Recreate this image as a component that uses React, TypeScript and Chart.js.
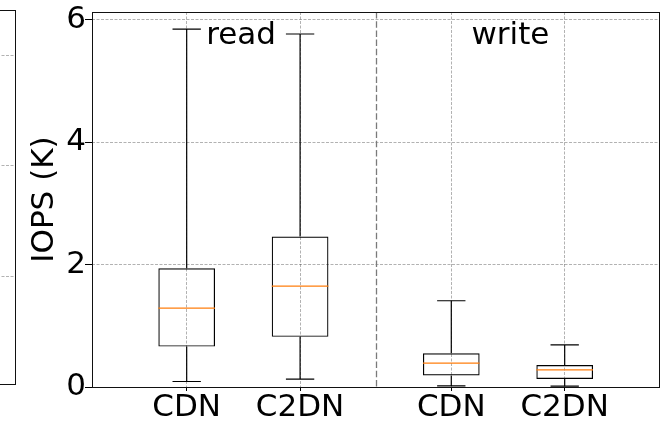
import React, { useEffect, useRef } from "react";
import { Chart, registerables } from "chart.js";

Chart.register(...registerables);

// ---- data ----
const categories = ["CDN", "C2DN", "CDN", "C2DN"];
const groupLabels = ["read", "write"];
const positions = [1, 2, 10 / 3, 13 / 3];
const whiskerLow = [0.09, 0.13, 0.02, 0.015];
const q1 = [0.66, 0.82, 0.19, 0.13];
const median = [1.29, 1.65, 0.39, 0.28];
const q3 = [1.94, 2.46, 0.55, 0.36];
const whiskerHigh = [5.85, 5.77, 1.41, 0.69];
const yTicks = [0, 2, 4, 6];
const yTitle = "IOPS (K)";
const groupLabelX = [1.48, 3.855];
const groupLabelY = 5.6;
const leftPanelTicks = [1, 2, 3];

const FONT = "'DejaVu Sans', sans-serif";
const BOX_HALF = 0.25;
const CAP_HALF = 0.125;

export default function App() {
  const mainRef = useRef<HTMLCanvasElement>(null);
  const leftRef = useRef<HTMLCanvasElement>(null);

  useEffect(() => {
    Chart.defaults.font.family = FONT;
    Chart.defaults.color = "#000";

    const framePlugin = {
      id: "frame",
      afterDraw(chart: any) {
        const { ctx, chartArea } = chart;
        ctx.save();
        ctx.strokeStyle = "#111";
        ctx.lineWidth = 1;
        ctx.setLineDash([]);
        ctx.strokeRect(
          chartArea.left + 0.5,
          chartArea.top + 0.5,
          chartArea.right - chartArea.left,
          chartArea.bottom - chartArea.top
        );
        ctx.restore();
      },
    };

    const sepX = (positions[1] + positions[2]) / 2;
    const decorPlugin = {
      id: "decor",
      beforeDatasetsDraw(chart: any) {
        const { ctx, chartArea, scales } = chart;
        const px = Math.round(scales.x.getPixelForValue(sepX)) + 0.5;
        ctx.save();
        ctx.strokeStyle = "#7a7a7a";
        ctx.lineWidth = 1.3;
        ctx.setLineDash([6.5, 2.7]);
        ctx.beginPath();
        ctx.moveTo(px, chartArea.top);
        ctx.lineTo(px, chartArea.bottom);
        ctx.stroke();
        ctx.restore();
      },
      afterDatasetsDraw(chart: any) {
        const { ctx, scales } = chart;
        ctx.save();
        ctx.fillStyle = "#000";
        ctx.font = `31px ${FONT}`;
        ctx.textAlign = "center";
        ctx.textBaseline = "alphabetic";
        groupLabels.forEach((t, i) => {
          ctx.fillText(
            t,
            scales.x.getPixelForValue(groupLabelX[i]),
            scales.y.getPixelForValue(groupLabelY)
          );
        });
        ctx.restore();
      },
    };

    const boxData = positions.map((x, i) => ({ x, y: [q1[i], q3[i]] }));
    const whiskerData: any[] = [];
    const medianData: any[] = [];
    positions.forEach((x, i) => {
      whiskerData.push(
        { x, y: q3[i] },
        { x, y: whiskerHigh[i] },
        { x, y: null },
        { x, y: q1[i] },
        { x, y: whiskerLow[i] },
        { x, y: null },
        { x: x - CAP_HALF, y: whiskerHigh[i] },
        { x: x + CAP_HALF, y: whiskerHigh[i] },
        { x, y: null },
        { x: x - CAP_HALF, y: whiskerLow[i] },
        { x: x + CAP_HALF, y: whiskerLow[i] },
        { x, y: null }
      );
      medianData.push(
        { x: x - BOX_HALF, y: median[i] },
        { x: x + BOX_HALF, y: median[i] },
        { x, y: null }
      );
    });

    const gridStyle = {
      color: "rgba(0,0,0,0.3)",
      lineWidth: 1,
      tickColor: "#000",
      tickBorderDash: [],
      tickWidth: 1,
    };
    const borderStyle = { display: false, dash: [3, 1.5] };

    const main = new Chart(mainRef.current as HTMLCanvasElement, {
      type: "bar",
      data: {
        datasets: [
          {
            type: "line",
            label: "median",
            data: medianData,
            borderColor: "#ff7f0e",
            borderWidth: 1.2,
            pointRadius: 0,
            spanGaps: false,
            fill: false,
            order: 0,
          } as any,
          {
            type: "line",
            label: "whiskers",
            data: whiskerData,
            borderColor: "#000",
            borderWidth: 1.2,
            pointRadius: 0,
            spanGaps: false,
            fill: false,
            order: 1,
          } as any,
          {
            type: "bar",
            label: "box",
            data: boxData as any,
            backgroundColor: "rgba(0,0,0,0)",
            borderColor: "#000",
            borderWidth: 1.2,
            borderSkipped: false,
            categoryPercentage: 1,
            barPercentage: 0.5,
            order: 2,
          } as any,
        ],
      },
      options: {
        animation: false,
        responsive: false,
        devicePixelRatio: 1,
        layout: { padding: { left: 0, right: 12, top: 12, bottom: 0 } },
        plugins: { legend: { display: false }, tooltip: { enabled: false } },
        scales: {
          x: {
            type: "linear",
            min: 0.165,
            max: 5.165,
            offset: false,
            border: borderStyle,
            grid: { ...gridStyle, offset: false, tickLength: 4 },
            ticks: {
              font: { size: 31, family: FONT, lineHeight: 1 },
              color: "#000",
              padding: 1,
              maxRotation: 0,
              autoSkip: false,
              callback: (_v: any, i: number) => categories[i],
            },
            afterBuildTicks: (s: any) => {
              s.ticks = positions.map((v) => ({ value: v }));
            },
            afterFit: (s: any) => {
              s.height = 36;
              s.paddingLeft = 0;
              s.paddingRight = 0;
            },
          },
          y: {
            type: "linear",
            min: 0,
            max: 6.13,
            border: borderStyle,
            grid: { ...gridStyle, tickLength: 7 },
            ticks: {
              font: { size: 31, family: FONT, lineHeight: 1 },
              color: "#000",
              padding: -1,
              callback: (v: any) => String(v),
            },
            title: {
              display: true,
              text: yTitle,
              color: "#000",
              font: { size: 31, family: FONT, lineHeight: 1 },
              padding: { top: 29.5, bottom: 0 },
            },
            afterBuildTicks: (s: any) => {
              s.ticks = yTicks.map((v) => ({ value: v }));
            },
            afterFit: (s: any) => {
              s.width = 92;
              s.paddingTop = 0;
              s.paddingBottom = 0;
            },
          },
        },
      } as any,
      plugins: [framePlugin, decorPlugin],
    });

    const left = new Chart(leftRef.current as HTMLCanvasElement, {
      type: "line",
      data: { datasets: [] },
      options: {
        animation: false,
        responsive: false,
        devicePixelRatio: 1,
        layout: { padding: { left: 0, right: 1, top: 10, bottom: 39 } },
        plugins: { legend: { display: false }, tooltip: { enabled: false } },
        scales: {
          x: { type: "linear", display: false, min: 0, max: 1 },
          y: {
            type: "linear",
            min: 0.021,
            max: 3.412,
            border: borderStyle,
            grid: { ...gridStyle, drawTicks: false },
            ticks: { display: false },
            afterBuildTicks: (s: any) => {
              s.ticks = leftPanelTicks.map((v) => ({ value: v }));
            },
            afterFit: (s: any) => {
              s.width = 0;
              s.paddingTop = 0;
              s.paddingBottom = 0;
            },
          },
        },
      } as any,
      plugins: [framePlugin],
    });

    return () => {
      main.destroy();
      left.destroy();
    };
  }, []);

  return (
    <div
      style={{
        position: "absolute",
        left: 0,
        top: 0,
        width: 671,
        height: 423,
        overflow: "hidden",
        background: "#fff",
      }}
    >
      <canvas
        ref={leftRef}
        width={46}
        height={423}
        style={{ position: "absolute", left: -30, top: 0, width: 46, height: 423 }}
      />
      <canvas
        ref={mainRef}
        width={671}
        height={423}
        style={{ position: "absolute", left: 0, top: 0, width: 671, height: 423 }}
      />
    </div>
  );
}
